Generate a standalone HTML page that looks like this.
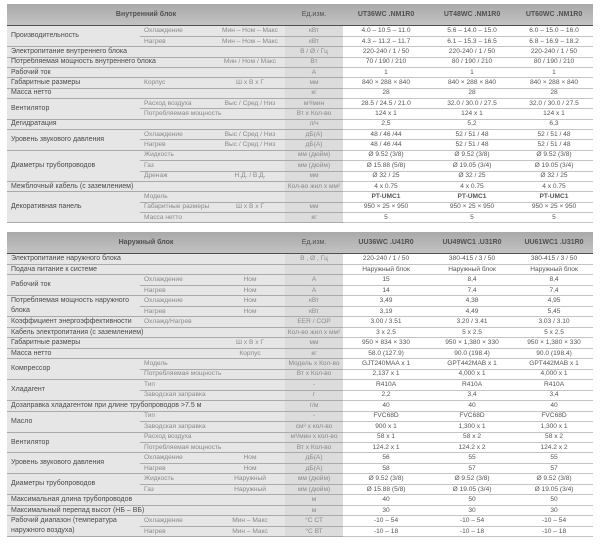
<!DOCTYPE html>
<html><head><meta charset="utf-8">
<style>
html,body{margin:0;padding:0;background:#fff;width:600px;height:544px;overflow:hidden}
body{font-family:"Liberation Sans","DejaVu Sans",sans-serif;position:relative}
table{position:absolute;left:7px;width:586px;border-collapse:collapse;table-layout:fixed;background:#e6e6e6;font-size:6.6px;color:#555}
td{padding:0 0 0 4px;border-bottom:1px solid #aaa;white-space:nowrap;overflow:hidden;line-height:8px;vertical-align:middle;box-sizing:border-box}
.t1 tr{height:10.37px}
.t2 tr{height:10.48px}
td.l{color:#4a4a4a;font-size:7px}
td.s{color:#8a8a8a;text-align:left}
td.c{color:#8a8a8a;text-align:center;padding:0}
td.u{color:#8a8a8a;text-align:center;padding:0;background:#dcdcdc}
td.d{background:#fff;text-align:center;padding:0;color:#555;border-bottom:1px solid #c4c4c4}
td.b{font-weight:bold}
tr.h td{background:linear-gradient(#a9a9a9,#c2c2c2);border-bottom:2px solid #505050;font-weight:bold;color:#505050;font-size:7px;text-align:center;padding:0}
tr.h td.hu{font-weight:normal}
td.w{white-space:normal;line-height:10px}
</style></head><body>

<table style="top:4px;height:22px">
<colgroup><col style="width:133px"><col style="width:75px"><col style="width:70px"><col style="width:58px"><col style="width:86px"><col style="width:86px"><col style="width:78px"></colgroup>
<tr class="h" style="height:22px"><td colspan="3">Внутренний блок</td><td class="hu">Ед.изм.</td><td>UT36WC .NM1R0</td><td>UT48WC .NM1R0</td><td>UT60WC .NM1R0</td></tr>
</table>

<table class="t1" style="top:26px;height:197px">
<colgroup><col style="width:133px"><col style="width:75px"><col style="width:70px"><col style="width:58px"><col style="width:86px"><col style="width:86px"><col style="width:78px"></colgroup>
<tr><td class="l" rowspan="2">Производительность</td><td class="s">Охлаждение</td><td class="c">Мин – Ном – Макс</td><td class="u">кВт</td><td class="d">4.0 – 10.5 – 11.0</td><td class="d">5.6 – 14.0 – 15.0</td><td class="d">6.0 – 15.0 – 16.0</td></tr>
<tr><td class="s">Нагрев</td><td class="c">Мин – Ном – Макс</td><td class="u">кВт</td><td class="d">4.3 – 11.2 – 11.7</td><td class="d">6.1 – 15.3 – 16.5</td><td class="d">6.8 – 16.9 – 18.2</td></tr>
<tr><td class="l" colspan="3">Электропитание внутреннего блока</td><td class="u">В / Ø / Гц</td><td class="d">220-240 / 1 / 50</td><td class="d">220-240 / 1 / 50</td><td class="d">220-240 / 1 / 50</td></tr>
<tr><td class="l" colspan="2">Потребляемая мощность внутреннего блока</td><td class="c">Мин / Ном / Макс</td><td class="u">Вт</td><td class="d">70 / 190 / 210</td><td class="d">80 / 190 / 210</td><td class="d">80 / 190 / 210</td></tr>
<tr><td class="l" colspan="3">Рабочий ток</td><td class="u">А</td><td class="d">1</td><td class="d">1</td><td class="d">1</td></tr>
<tr><td class="l">Габаритные размеры</td><td class="s">Корпус</td><td class="c">Ш x В x Г</td><td class="u">мм</td><td class="d">840 × 288 × 840</td><td class="d">840 × 288 × 840</td><td class="d">840 × 288 × 840</td></tr>
<tr><td class="l" colspan="3">Масса нетто</td><td class="u">кг</td><td class="d">28</td><td class="d">28</td><td class="d">28</td></tr>
<tr><td class="l" rowspan="2">Вентилятор</td><td class="s">Расход воздуха</td><td class="c">Выс / Сред / Низ</td><td class="u">м³/мин</td><td class="d">28.5 / 24.5 / 21.0</td><td class="d">32.0 / 30.0 / 27.5</td><td class="d">32.0 / 30.0 / 27.5</td></tr>
<tr><td class="s" colspan="2">Потребляемая мощность</td><td class="u">Вт x Кол-во</td><td class="d">124 x 1</td><td class="d">124 x 1</td><td class="d">124 x 1</td></tr>
<tr><td class="l" colspan="3">Дегидратация</td><td class="u">л/ч</td><td class="d">2,5</td><td class="d">5,2</td><td class="d">6,3</td></tr>
<tr><td class="l" rowspan="2">Уровень звукового давления</td><td class="s">Охлаждение</td><td class="c">Выс / Сред / Низ</td><td class="u">дБ(А)</td><td class="d">48 / 46 /44</td><td class="d">52 / 51 / 48</td><td class="d">52 / 51 / 48</td></tr>
<tr><td class="s">Нагрев</td><td class="c">Выс / Сред / Низ</td><td class="u">дБ(А)</td><td class="d">48 / 46 /44</td><td class="d">52 / 51 / 48</td><td class="d">52 / 51 / 48</td></tr>
<tr><td class="l" rowspan="3">Диаметры трубопроводов</td><td class="s" colspan="2">Жидкость</td><td class="u">мм (дюйм)</td><td class="d">Ø 9.52 (3/8)</td><td class="d">Ø 9.52 (3/8)</td><td class="d">Ø 9.52 (3/8)</td></tr>
<tr><td class="s" colspan="2">Газ</td><td class="u">мм (дюйм)</td><td class="d">Ø 15.88 (5/8)</td><td class="d">Ø 19.05 (3/4)</td><td class="d">Ø 19.05 (3/4)</td></tr>
<tr><td class="s">Дренаж</td><td class="c">Н.Д. / В.Д.</td><td class="u">мм</td><td class="d">Ø 32 / 25</td><td class="d">Ø 32 / 25</td><td class="d">Ø 32 / 25</td></tr>
<tr><td class="l" colspan="3">Межблочный кабель (с заземлением)</td><td class="u">Кол-во жил x мм²</td><td class="d">4 x 0.75</td><td class="d">4 x 0.75</td><td class="d">4 x 0.75</td></tr>
<tr><td class="l" rowspan="3">Декоративная панель</td><td class="s" colspan="2">Модель</td><td class="u"></td><td class="d b">PT-UMC1</td><td class="d b">PT-UMC1</td><td class="d b">PT-UMC1</td></tr>
<tr><td class="s">Габаритные размеры</td><td class="c">Ш x В x Г</td><td class="u">мм</td><td class="d">950 × 25 × 950</td><td class="d">950 × 25 × 950</td><td class="d">950 × 25 × 950</td></tr>
<tr><td class="s" colspan="2">Масса нетто</td><td class="u">кг</td><td class="d">5</td><td class="d">5</td><td class="d">5</td></tr>
</table>

<table style="top:232px;height:22px">
<colgroup><col style="width:133px"><col style="width:75px"><col style="width:70px"><col style="width:58px"><col style="width:86px"><col style="width:86px"><col style="width:78px"></colgroup>
<tr class="h" style="height:22px"><td colspan="3">Наружный блок</td><td class="hu">Ед.изм.</td><td>UU36WC .U41R0</td><td>UU49WC1 .U31R0</td><td>UU61WC1 .U31R0</td></tr>
</table>

<table class="t2" style="top:254px;height:283px">
<colgroup><col style="width:133px"><col style="width:75px"><col style="width:70px"><col style="width:58px"><col style="width:86px"><col style="width:86px"><col style="width:78px"></colgroup>
<tr><td class="l" colspan="3">Электропитание наружного блока</td><td class="u">В , Ø , Гц</td><td class="d">220-240 / 1 / 50</td><td class="d">380-415 / 3 / 50</td><td class="d">380-415 / 3 / 50</td></tr>
<tr><td class="l" colspan="3">Подача питание к системе</td><td class="u"></td><td class="d">Наружный блок</td><td class="d">Наружный блок</td><td class="d">Наружный блок</td></tr>
<tr><td class="l" rowspan="2">Рабочий ток</td><td class="s">Охлаждение</td><td class="c">Ном</td><td class="u">А</td><td class="d">15</td><td class="d">8,4</td><td class="d">8,4</td></tr>
<tr><td class="s">Нагрев</td><td class="c">Ном</td><td class="u">А</td><td class="d">14</td><td class="d">7,4</td><td class="d">7,4</td></tr>
<tr><td class="l w" rowspan="2">Потребляемая мощность наружного блока</td><td class="s">Охлаждение</td><td class="c">Ном</td><td class="u">кВт</td><td class="d">3,49</td><td class="d">4,38</td><td class="d">4,95</td></tr>
<tr><td class="s">Нагрев</td><td class="c">Ном</td><td class="u">кВт</td><td class="d">3,19</td><td class="d">4,49</td><td class="d">5,45</td></tr>
<tr><td class="l">Коэффициент энергоэффективности</td><td class="s" colspan="2">Охлажд/Нагрев</td><td class="u">EER / COP</td><td class="d">3.00 / 3.51</td><td class="d">3.20 / 3.41</td><td class="d">3.03 / 3.10</td></tr>
<tr><td class="l" colspan="3">Кабель электропитания (с заземлением)</td><td class="u">Кол-во жил x мм²</td><td class="d">3 x 2.5</td><td class="d">5 x 2.5</td><td class="d">5 x 2.5</td></tr>
<tr><td class="l" colspan="2">Габаритные размеры</td><td class="c">Ш x В x Г</td><td class="u">мм</td><td class="d">950 × 834 × 330</td><td class="d">950 × 1,380 × 330</td><td class="d">950 × 1,380 × 330</td></tr>
<tr><td class="l" colspan="2">Масса нетто</td><td class="c">Корпус</td><td class="u">кг</td><td class="d">58.0 (127.9)</td><td class="d">90.0 (198.4)</td><td class="d">90.0 (198.4)</td></tr>
<tr><td class="l" rowspan="2">Компрессор</td><td class="s" colspan="2">Модель</td><td class="u">Модель x Кол-во</td><td class="d">GJT240MAA x 1</td><td class="d">GPT442MAB x 1</td><td class="d">GPT442MAB x 1</td></tr>
<tr><td class="s" colspan="2">Потребляемая мощность</td><td class="u">Вт x Кол-во</td><td class="d">2,137 x 1</td><td class="d">4,000 x 1</td><td class="d">4,000 x 1</td></tr>
<tr><td class="l" rowspan="2">Хладагент</td><td class="s" colspan="2">Тип</td><td class="u">-</td><td class="d">R410A</td><td class="d">R410A</td><td class="d">R410A</td></tr>
<tr><td class="s" colspan="2">Заводская заправка</td><td class="u">г</td><td class="d">2,2</td><td class="d">3,4</td><td class="d">3,4</td></tr>
<tr><td class="l" colspan="3">Дозаправка хладагентом при длине трубопроводов &gt;7.5 м</td><td class="u">г/м</td><td class="d">40</td><td class="d">40</td><td class="d">40</td></tr>
<tr><td class="l" rowspan="2">Масло</td><td class="s" colspan="2">Тип</td><td class="u">-</td><td class="d">FVC68D</td><td class="d">FVC68D</td><td class="d">FVC68D</td></tr>
<tr><td class="s" colspan="2">Заводская заправка</td><td class="u">см³ x кол-во</td><td class="d">900 x 1</td><td class="d">1,300 x 1</td><td class="d">1,300 x 1</td></tr>
<tr><td class="l" rowspan="2">Вентилятор</td><td class="s" colspan="2">Расход воздуха</td><td class="u">м³/мин x кол-во</td><td class="d">58 x 1</td><td class="d">58 x 2</td><td class="d">58 x 2</td></tr>
<tr><td class="s" colspan="2">Потребляемая мощность</td><td class="u">Вт x Кол-во</td><td class="d">124.2 x 1</td><td class="d">124.2 x 2</td><td class="d">124.2 x 2</td></tr>
<tr><td class="l" rowspan="2">Уровень звукового давления</td><td class="s">Охлаждение</td><td class="c">Ном</td><td class="u">дБ(А)</td><td class="d">56</td><td class="d">55</td><td class="d">55</td></tr>
<tr><td class="s">Нагрев</td><td class="c">Ном</td><td class="u">дБ(А)</td><td class="d">58</td><td class="d">57</td><td class="d">57</td></tr>
<tr><td class="l" rowspan="2">Диаметры трубопроводов</td><td class="s">Жидкость</td><td class="c">Наружный</td><td class="u">мм (дюйм)</td><td class="d">Ø 9.52 (3/8)</td><td class="d">Ø 9.52 (3/8)</td><td class="d">Ø 9.52 (3/8)</td></tr>
<tr><td class="s">Газ</td><td class="c">Наружный</td><td class="u">мм (дюйм)</td><td class="d">Ø 15.88 (5/8)</td><td class="d">Ø 19.05 (3/4)</td><td class="d">Ø 19.05 (3/4)</td></tr>
<tr><td class="l" colspan="3">Максимальная длина трубопроводов</td><td class="u">м</td><td class="d">40</td><td class="d">50</td><td class="d">50</td></tr>
<tr><td class="l" colspan="3">Максимальный перепад высот (НБ – ВБ)</td><td class="u">м</td><td class="d">30</td><td class="d">30</td><td class="d">30</td></tr>
<tr><td class="l w" rowspan="2">Рабочий диапазон (температура наружного воздуха)</td><td class="s">Охлаждение</td><td class="c">Мин – Макс</td><td class="u">°C СТ</td><td class="d">-10 – 54</td><td class="d">-10 – 54</td><td class="d">-10 – 54</td></tr>
<tr><td class="s">Нагрев</td><td class="c">Мин – Макс</td><td class="u">°C ВТ</td><td class="d">-10 – 18</td><td class="d">-10 – 18</td><td class="d">-10 – 18</td></tr>
</table>
</body></html>
